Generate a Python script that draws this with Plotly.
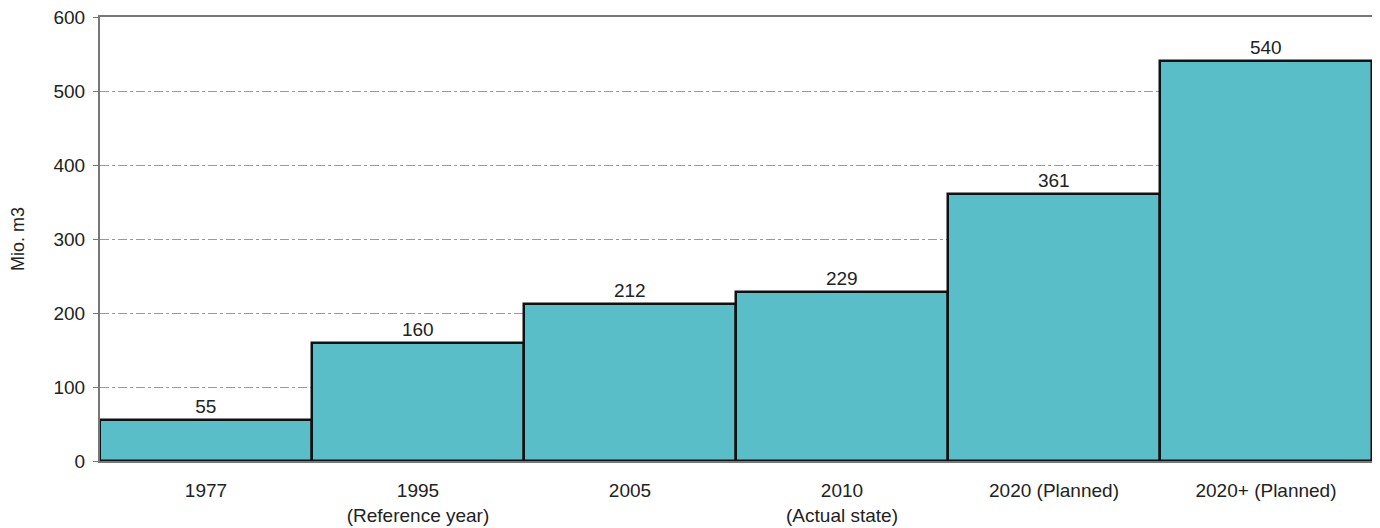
import plotly.graph_objects as go

categories = ["1977", "1995<br>(Reference year)", "2005", "2010<br>(Actual state)",
              "2020 (Planned)", "2020+ (Planned)"]
values = [55, 160, 212, 229, 361, 540]
y_ticks = [0, 100, 200, 300, 400, 500, 600]

BAR_COLOR = "#59BEC8"
FONT = "Liberation Sans, Arial, sans-serif"

fig = go.Figure()

fig.add_trace(go.Bar(
    x=categories,
    y=values,
    marker=dict(color=BAR_COLOR, line=dict(color="#111111", width=2.5)),
    text=[str(v) for v in values],
    textposition="outside",
    textfont=dict(size=19, color="#222222", family=FONT),
    cliponaxis=False,
))

# page body adds ~8px offset, so margins are shifted to compensate
fig.update_layout(
    width=1366, height=520,
    margin=dict(l=92, r=2, t=9, b=56),
    plot_bgcolor="white",
    paper_bgcolor="white",
    bargap=0,
    showlegend=False,
    font=dict(family=FONT, size=19, color="#222222"),
)

fig.update_xaxes(
    showline=True, linecolor="#777777", linewidth=2, mirror=True,
    ticks="", tickfont=dict(size=19), showgrid=False,
    ticklabelstandoff=11,
)
fig.update_yaxes(
    range=[0, 600], tickvals=y_ticks,
    showline=True, linecolor="#777777", linewidth=2, mirror=True,
    ticks="outside", ticklen=5, tickcolor="#777777",
    showgrid=True, gridcolor="#999999", gridwidth=1, griddash="dashdot",
    zeroline=False, tickfont=dict(size=19), ticklabelstandoff=4,
    ticklabeloverflow="allow",
    title=dict(text="Mio. m3", font=dict(size=18), standoff=24),
    automargin=False,
)

fig.write_html("out.html")
